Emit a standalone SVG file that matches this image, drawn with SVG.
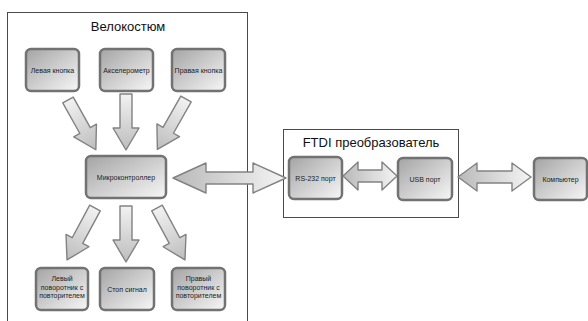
<svg xmlns="http://www.w3.org/2000/svg" width="588" height="321" viewBox="0 0 588 321">
<style>
.frame{fill:none;stroke:#4a4a4a;stroke-width:1}
.title{font-family:"Liberation Sans",Arial,sans-serif;font-size:13px;fill:#111;text-anchor:middle}
.box{fill:url(#boxg);stroke:#727272;stroke-width:2.5}
.lbl{font-family:"Liberation Sans",Arial,sans-serif;font-size:7px;fill:#222;text-anchor:middle}
.arr{fill:url(#arrg);stroke:#828282;stroke-width:1.4;stroke-linejoin:round}
.darr{fill:url(#darrg);stroke:#828282;stroke-width:1.4;stroke-linejoin:round}
</style>
<defs>
<linearGradient id="boxg" x1="0" y1="0" x2="1" y2="1">
<stop offset="0" stop-color="#a4a4a4"/>
<stop offset="1" stop-color="#f7f7f7"/>
</linearGradient>
<linearGradient id="arrg" x1="0" y1="0" x2="1" y2="0">
<stop offset="0" stop-color="#f2f2f2"/>
<stop offset="1" stop-color="#bdbdbd"/>
</linearGradient>
<linearGradient id="darrg" x1="0" y1="0" x2="1" y2="0">
<stop offset="0" stop-color="#b9b9b9"/>
<stop offset="1" stop-color="#f4f4f4"/>
</linearGradient>
</defs>
<rect width="588" height="321" fill="#fff"/>
<g id="velokostum">
<rect class="frame" x="7.5" y="12.5" width="240" height="312"/>
<text class="title" x="128" y="31">Велокостюм</text>
</g>
<g id="ftdi">
<rect class="frame" x="283.5" y="129.5" width="175" height="88"/>
<text class="title" x="371" y="147">FTDI преобразователь</text>
</g>
<g id="connectors">
<path class="arr" transform="translate(126,94) rotate(90)" d="M0,-6 L34,-6 L34,-13 L56,0 L34,13 L34,6 L0,6 Z"/>
<path class="arr" transform="translate(68,100) rotate(60.75)" d="M0,-6 L35,-6 L35,-13 L57,0 L35,13 L35,6 L0,6 Z"/>
<path class="arr" transform="translate(186,99) rotate(119.6)" d="M0,-6 L36,-6 L36,-13 L58,0 L36,13 L36,6 L0,6 Z"/>
<path class="arr" transform="translate(126,206) rotate(90)" d="M0,-6 L34,-6 L34,-13 L56,0 L34,13 L34,6 L0,6 Z"/>
<path class="arr" transform="translate(95,208) rotate(118.3)" d="M0,-6 L37,-6 L37,-13 L59,0 L37,13 L37,6 L0,6 Z"/>
<path class="arr" transform="translate(157,208) rotate(61.7)" d="M0,-6 L37,-6 L37,-13 L59,0 L37,13 L37,6 L0,6 Z"/>
<path class="darr" transform="translate(173,178)" d="M0,0 L33,-15 L33,-6 L80,-6 L80,-15 L113,0 L80,15 L80,6 L33,6 L33,15 Z"/>
<path class="darr" transform="translate(343,176)" d="M0,0 L15,-14 L15,-6 L39,-6 L39,-14 L54,0 L39,14 L39,6 L15,6 L15,14 Z"/>
<path class="darr" transform="translate(458,177)" d="M0,0 L19,-14 L19,-6 L54,-6 L54,-14 L73,0 L54,14 L54,6 L19,6 L19,14 Z"/>
</g>
<g id="left_button">
<rect class="box" x="26" y="49" width="53" height="42" rx="5"/>
<text class="lbl" x="52.5" y="72.5">Левая кнопка</text>
</g>
<g id="accelerometer">
<rect class="box" x="100" y="49" width="53" height="42" rx="5"/>
<text class="lbl" x="126.5" y="72.5">Акселерометр</text>
</g>
<g id="right_button">
<rect class="box" x="172" y="49" width="53" height="42" rx="5"/>
<text class="lbl" x="198.5" y="72.5">Правая кнопка</text>
</g>
<g id="microcontroller">
<rect class="box" x="86" y="156" width="80" height="42" rx="5"/>
<text class="lbl" x="126" y="179.5">Микроконтроллер</text>
</g>
<g id="left_turn">
<rect class="box" x="36" y="268" width="52" height="42" rx="5"/>
<text class="lbl" x="62" y="281">Левый</text>
<text class="lbl" x="62" y="289.5">поворотник с</text>
<text class="lbl" x="62" y="298">повторителем</text>
</g>
<g id="stop_signal">
<rect class="box" x="100" y="268" width="54" height="42" rx="5"/>
<text class="lbl" x="127" y="291.5">Стоп сигнал</text>
</g>
<g id="right_turn">
<rect class="box" x="172" y="268" width="53" height="42" rx="5"/>
<text class="lbl" x="198.5" y="281">Правый</text>
<text class="lbl" x="198.5" y="289.5">поворотник с</text>
<text class="lbl" x="198.5" y="298">повторителем</text>
</g>
<g id="rs232">
<rect class="box" x="289" y="157" width="53" height="42" rx="5"/>
<text class="lbl" x="315.5" y="180.5">RS-232 порт</text>
</g>
<g id="usb">
<rect class="box" x="398" y="158" width="54" height="42" rx="5"/>
<text class="lbl" x="425" y="181.5">USB порт</text>
</g>
<g id="computer">
<rect class="box" x="534" y="158" width="53" height="42" rx="5"/>
<text class="lbl" x="560.5" y="181.5">Компьютер</text>
</g>
</svg>
